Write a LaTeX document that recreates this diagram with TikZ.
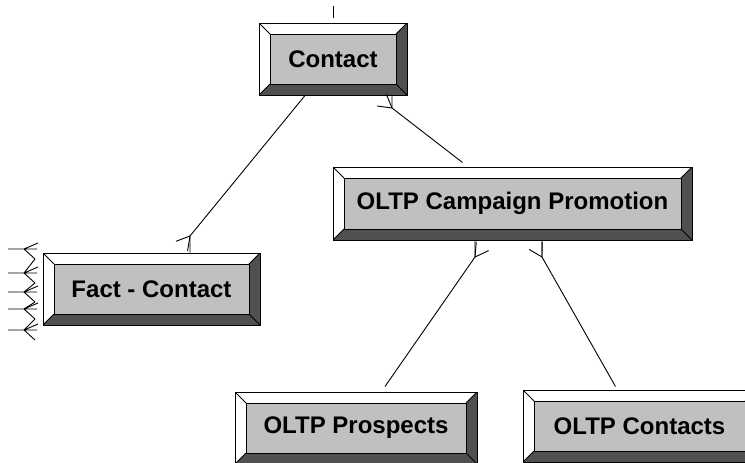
\documentclass[tikz,border=0pt]{standalone}
\usepackage{fontspec}
\setmainfont{Liberation Sans}
\usepackage{tikz}
\usetikzlibrary{calc}

\definecolor{facegray}{HTML}{C0C0C0}
\definecolor{bevelgray}{HTML}{505050}

\tikzset{
  entity/.style={rectangle, draw, line width=1pt, fill=white, inner sep=0pt,
    minimum height=72pt, font=\bfseries\fontsize{24}{28}\selectfont,
    path picture={
      \path (path picture bounding box.north west) coordinate (o1) ++(11pt,-11pt) coordinate (i1)
            (path picture bounding box.north east) coordinate (o2) ++(-11pt,-11pt) coordinate (i2)
            (path picture bounding box.south east) coordinate (o3) ++(-11pt,11pt) coordinate (i3)
            (path picture bounding box.south west) coordinate (o4) ++(11pt,11pt) coordinate (i4);
      \fill[bevelgray] (o2) -- (o3) -- (o4) -- (i4) -- (i3) -- (i2) -- cycle;
      \draw[line width=1pt] (o1) -- (i1) (o2) -- (i2) (o3) -- (i3) (o4) -- (i4);
      \filldraw[fill=facegray, line width=1pt] (i1) rectangle (i3);
    }},
  link/.style={line width=0.9pt}
}

% open foot at a junction, pointing toward the far end
\newcommand{\crowfoot}[2]{\draw[link] (#1) -- ($(#1)!15pt!150:(#2)$) (#1) -- ($(#1)!15pt!210:(#2)$);}

\begin{document}
\begin{tikzpicture}[x=1pt, y=-1pt]

\useasboundingbox (0,0) rectangle (745,463);

\node [entity, minimum width=148pt] (contact) at (333,59) {Contact};

\node [entity, minimum width=217pt] (fact) at (151.5,289) {Fact - Contact};

\node [entity, minimum width=359pt, minimum height=73pt] (camp) at (512.5,203.5) {OLTP Campaign Promotion};

\node [entity, minimum width=242pt] (prosp) at (356,428) {OLTP Prospects};

\node [entity, minimum width=233pt] (contacts) at (639.5,426) {OLTP Contacts};

% line leaving the top
\coordinate (up1) at (333,18);
\coordinate (up2) at (333,6);
\draw[link] (up1) -- (up2);

% Contact -- Fact - Contact
\coordinate (fj) at (190,236);
\draw[link] (fact.north -| fj) -- (fj) -- ([xshift=-28pt]contact.south);
\crowfoot{fj}{[xshift=-28pt]contact.south}

% Contact -- OLTP Campaign Promotion
\coordinate (cj) at (392,108);
\coordinate (ce) at ([xshift=-50pt,yshift=4pt]camp.north);
\draw[link] (contact.south -| cj) -- (cj) -- (ce);
\crowfoot{cj}{ce}

% OLTP Campaign Promotion -- OLTP Prospects
\coordinate (pj) at (475,257);
\coordinate (pe) at ([xshift=29pt,yshift=5pt]prosp.north);
\draw[link] (camp.south -| pj) -- (pj) -- (pe);
\crowfoot{pj}{pe}

% OLTP Campaign Promotion -- OLTP Contacts
\coordinate (kj) at (542,257);
\coordinate (ke) at ([xshift=-24pt,yshift=3pt]contacts.north);
\draw[link] (camp.south -| kj) -- (kj) -- (ke);
\crowfoot{kj}{ke}

% feet on the left of Fact - Contact
\foreach \y/\n in {249/273, 273/292, 292/309, 309/330, 330/346} {
  \draw[link] (8,\y) -- (24,\y) -- (38,\y-6) (24,\y) -- (37,\y) (24,\y) -- (35,\y+10);
  \ifnum\n<340 \draw[link] (35,\y+10) -- (24,\n); \fi
}

\end{tikzpicture}
\end{document}
